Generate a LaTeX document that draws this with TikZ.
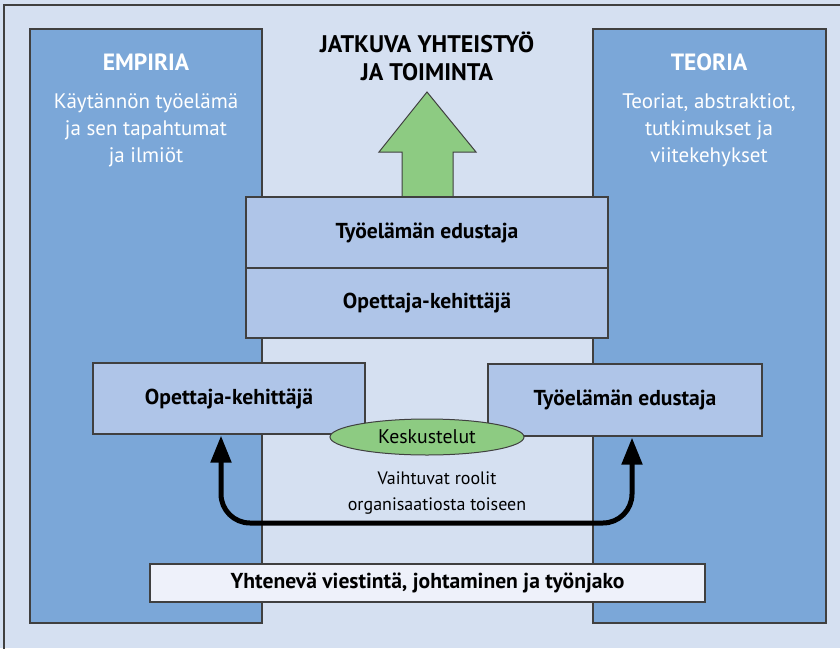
\documentclass[tikz,border=0pt]{standalone}
\usepackage{fontspec}
\setmainfont{PT Sans}
\usetikzlibrary{arrows.meta,shapes.geometric}
\definecolor{bgblue}{HTML}{D5E0F1}
\definecolor{colblue}{HTML}{7BA7D8}
\definecolor{boxblue}{HTML}{AFC5E8}
\definecolor{lightbox}{HTML}{EEF1FA}
\definecolor{leafgreen}{HTML}{8DCB82}
\definecolor{frame}{HTML}{404040}
\tikzset{
  column/.style={draw=frame, line width=1.2pt, fill=colblue, inner sep=0pt},
  rolebox/.style={draw=frame, line width=1.2pt, fill=boxblue, inner sep=0pt,
    font=\fontsize{21.6}{24}\selectfont\bfseries},
  headtext/.style={text=white, font=\fontsize{23.5}{26}\selectfont\bfseries, align=center},
  bodytext/.style={text=white, font=\fontsize{21}{27}\selectfont, align=center},
  roleswap/.style={{Triangle[width=20pt,length=27pt]}-{Triangle[width=20pt,length=27pt]},
    line width=5pt, rounded corners=29pt}
}
\begin{document}
\begin{tikzpicture}[x=1pt,y=-1pt]
\useasboundingbox (0,0) rectangle (840,648);
% background and frame
\fill[bgblue] (0,0) rectangle (840,648);
\draw[frame, line width=2pt] (4,652) -- (4,5) -- (844,5);

% side columns
\node[column, minimum width=232pt, minimum height=594pt] (emp) at (146,326) {};
\node[column, minimum width=233pt, minimum height=594pt] (teo) at (709.5,326) {};
\node[headtext] (emptitle) at (146,62) {EMPIRIA};
\node[bodytext] (empbody) at (146,130) {Käytännön työelämä\\ja sen tapahtumat\\ja ilmiöt};
\node[headtext] (teotitle) at (709,62) {TEORIA};
\node[bodytext] (teobody) at (709,130) {Teoriat, abstraktiot,\\tutkimukset ja\\viitekehykset};

% heading and green arrow
\node[font=\fontsize{24}{28}\selectfont\bfseries, align=center] (goal) at (427,56) {JATKUVA YHTEISTYÖ\\JA TOIMINTA};
\draw[frame, line width=1pt, fill=leafgreen]
  (402,197) -- (402,152) -- (379,152) -- (427,92) -- (476,152) -- (453,152) -- (453,197) -- cycle;

% stacked roles
\node[rolebox, minimum width=362pt, minimum height=71pt] (topa) at (427,232.5) {Työelämän edustaja};
\node[rolebox, minimum width=362pt, minimum height=70pt] (topb) at (427,303) {Opettaja-kehittäjä};

% side roles and discussion
\node[rolebox, minimum width=272pt, minimum height=71pt] (left) at (229,398.5) {Opettaja-kehittäjä};
\node[rolebox, minimum width=274pt, minimum height=72pt] (right) at (625,400) {Työelämän edustaja};
\node[ellipse, draw=frame, line width=1pt, fill=leafgreen, minimum width=194pt, minimum height=36pt,
  inner sep=0pt, font=\fontsize{19.8}{22}\selectfont] (talk) at (427,437) {Keskustelut};

% role exchange arrow
\coordinate (swapL) at (221,523);
\coordinate (swapR) at (632,523);
\draw[roleswap] ([yshift=-1pt]left.south -| swapL) -- (swapL) -- (swapR) -- ([yshift=-1pt]right.south -| swapR);
\node[font=\fontsize{18}{26}\selectfont, align=center] (swaptext) at (437,493) {Vaihtuvat roolit\\organisaatiosta toiseen};

% shared basis
\node[draw=frame, line width=1.2pt, fill=lightbox, minimum width=555pt, minimum height=38pt, inner sep=0pt,
  font=\fontsize{21.6}{24}\selectfont\bfseries] (basis) at (427.5,583) {Yhtenevä viestintä, johtaminen ja työnjako};
\end{tikzpicture}
\end{document}
